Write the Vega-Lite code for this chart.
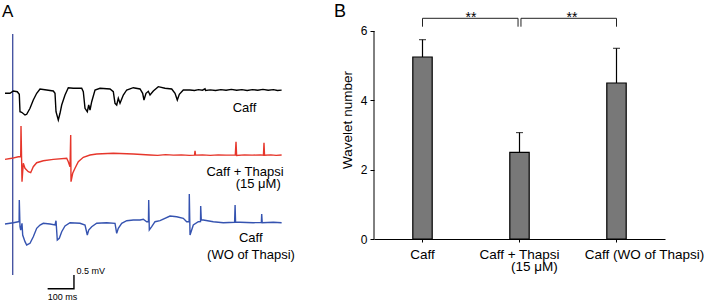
{
 "$schema": "https://vega.github.io/schema/vega-lite/v6.json",
 "padding": 0,
 "background": "white",
 "spacing": 24,
 "config": {
  "view": {"stroke": null},
  "font": "Liberation Sans",
  "axis": {"labelFont": "Liberation Sans", "titleFont": "Liberation Sans", "domainColor": "#000", "tickColor": "#000", "labelColor": "#000", "titleColor": "#000", "grid": false, "domainWidth": 1, "tickWidth": 1}
 },
 "datasets": {
  "caff": [
   {"t":0,"v":-0.084},{"t":19,"v":-0.084},{"t":31.5,"v":0},{"t":46.7,"v":-0.026},{"t":54.3,"v":-0.121},{"t":57,"v":-0.758},{"t":63.4,"v":-0.78},{"t":76,"v":-0.879},{"t":82.4,"v":-0.853},{"t":95,"v":-0.634},{"t":107.5,"v":-0.33},{"t":120.4,"v":-0.084},{"t":133,"v":0.073},{"t":158.4,"v":0.037},{"t":183.5,"v":0},{"t":190,"v":-0.084},{"t":193.8,"v":-0.758},{"t":202.5,"v":-1.062},{"t":209,"v":-0.817},{"t":215.4,"v":-0.513},{"t":228,"v":-0.147},{"t":240.5,"v":0.121},{"t":259.5,"v":0.099},{"t":291.4,"v":0.099},{"t":297.5,"v":-0.026},{"t":304,"v":-0.634},{"t":312.7,"v":-0.758},{"t":318,"v":-0.513},{"t":323,"v":-0.696},{"t":329.4,"v":-0.392},{"t":342,"v":0.037},{"t":361,"v":0.099},{"t":399,"v":0.073},{"t":411.5,"v":-0.026},{"t":418,"v":-0.451},{"t":424.4,"v":-0.513},{"t":430.5,"v":-0.267},{"t":437,"v":-0.451},{"t":449.5,"v":-0.147},{"t":462.4,"v":0.037},{"t":487.5,"v":0.121},{"t":513,"v":0.073},{"t":523,"v":-0.084},{"t":528,"v":-0.33},{"t":535.7,"v":-0.084},{"t":544.5,"v":-0.011},{"t":551,"v":-0.147},{"t":563.5,"v":0},{"t":582.4,"v":0.158},{"t":608,"v":0.099},{"t":633.4,"v":0.073},{"t":646,"v":-0.084},{"t":654.6,"v":-0.33},{"t":662.3,"v":-0.121},{"t":677.4,"v":0.037},{"t":703,"v":0.037},{"t":720,"v":0.02},{"t":735,"v":0.05},{"t":750,"v":0.03},{"t":760,"v":0.08},{"t":762,"v":0.02},{"t":780,"v":0.04},{"t":800,"v":0.02},{"t":820,"v":0.05},{"t":840,"v":0.03},{"t":860,"v":0.06},{"t":880,"v":0.03},{"t":900,"v":0.05},{"t":920,"v":0.02},{"t":940,"v":0.05},{"t":960,"v":0.03},{"t":980,"v":0.06},{"t":1000,"v":0.03},{"t":1020,"v":0.05},{"t":1035,"v":0.02},{"t":1051,"v":0.03}
  ],
  "thapsi": [
   {"t":0,"v":-0.103},{"t":25.5,"v":-0.066},{"t":50.5,"v":-0.007},{"t":59.7,"v":-0.007},{"t":60.8,"v":1.117},{"t":64.6,"v":-0.923},{"t":69.5,"v":-0.249},{"t":76,"v":-0.432},{"t":88.5,"v":-0.557},{"t":97.6,"v":-0.593},{"t":107.5,"v":-0.374},{"t":120.4,"v":-0.227},{"t":145.5,"v":-0.154},{"t":183.5,"v":-0.103},{"t":234.4,"v":-0.066},{"t":240.5,"v":-0.19},{"t":247,"v":-0.374},{"t":249.6,"v":0.788},{"t":250.8,"v":-0.923},{"t":257.2,"v":-0.615},{"t":266,"v":-0.432},{"t":278.5,"v":-0.19},{"t":297.5,"v":-0.029},{"t":323,"v":0.055},{"t":348.4,"v":0.092},{"t":411.5,"v":0.117},{"t":487.5,"v":0.092},{"t":551,"v":0.055},{"t":580,"v":0.04},{"t":610,"v":0.07},{"t":640,"v":0.05},{"t":670,"v":0.06},{"t":700,"v":0.04},{"t":720,"v":0.05},{"t":722,"v":0.21},{"t":724,"v":0.05},{"t":750,"v":0.06},{"t":780,"v":0.04},{"t":810,"v":0.06},{"t":840,"v":0.05},{"t":875,"v":0.05},{"t":877.7,"v":0.54},{"t":880,"v":0.04},{"t":910,"v":0.06},{"t":940,"v":0.05},{"t":970,"v":0.06},{"t":982,"v":0.05},{"t":984,"v":0.5},{"t":986,"v":0.05},{"t":1010,"v":0.06},{"t":1030,"v":0.04},{"t":1051,"v":0.055}
  ],
  "washout": [
   {"t":0,"v":-0.055},{"t":31.5,"v":-0.007},{"t":50.5,"v":0.029},{"t":53.6,"v":0.03},{"t":54.3,"v":0.824},{"t":57,"v":-0.154},{"t":59.7,"v":-0.275},{"t":64.6,"v":-0.029},{"t":67.2,"v":-0.458},{"t":76,"v":-0.703},{"t":82.4,"v":-0.824},{"t":95,"v":-0.762},{"t":107.5,"v":-0.52},{"t":120.4,"v":-0.212},{"t":133,"v":-0.092},{"t":145.5,"v":-0.029},{"t":171,"v":-0.055},{"t":190,"v":-0.092},{"t":193.8,"v":0.066},{"t":198.7,"v":-0.641},{"t":206.3,"v":-0.579},{"t":215.4,"v":-0.337},{"t":228,"v":-0.128},{"t":247,"v":-0.007},{"t":285,"v":-0.029},{"t":304,"v":-0.092},{"t":312.7,"v":-0.458},{"t":318,"v":-0.275},{"t":329.4,"v":-0.154},{"t":348.4,"v":-0.029},{"t":386.4,"v":-0.007},{"t":418,"v":-0.029},{"t":424.4,"v":-0.396},{"t":430.5,"v":-0.212},{"t":443.4,"v":-0.029},{"t":462.4,"v":0.066},{"t":487.5,"v":0.092},{"t":513,"v":0.092},{"t":525.5,"v":0.117},{"t":538.4,"v":0.029},{"t":545,"v":0.03},{"t":546,"v":0.824},{"t":548.3,"v":-0.275},{"t":557.4,"v":-0.154},{"t":570,"v":0.029},{"t":589,"v":0.066},{"t":627,"v":0.238},{"t":652.4,"v":0.212},{"t":677.4,"v":0.154},{"t":690.3,"v":0.029},{"t":699.5,"v":0.03},{"t":700.2,"v":1.044},{"t":703,"v":-0.458},{"t":715.4,"v":-0.092},{"t":734.4,"v":0.029},{"t":742.8,"v":0.03},{"t":743.5,"v":0.604},{"t":745.8,"v":0.092},{"t":753.4,"v":0.092},{"t":791.4,"v":0.029},{"t":829.4,"v":-0.007},{"t":872.3,"v":0.007},{"t":874.2,"v":0.641},{"t":876,"v":0.007},{"t":893,"v":0.007},{"t":943.4,"v":-0.007},{"t":974,"v":0},{"t":975.3,"v":0.311},{"t":977.2,"v":-0.007},{"t":1019.4,"v":0.007},{"t":1051,"v":-0.007}
  ],
  "bars": [
   {"condition":"Caff","mean":5.25,"upper":5.75},
   {"condition":"Caff + Thapsi","mean":2.5,"upper":3.07},
   {"condition":"Caff (WO of Thapsi)","mean":4.5,"upper":5.5}
  ]
 },
 "hconcat": [
  {
   "width": 310,
   "height": 300,
   "resolve": {"scale": {"y": "independent"}},
   "layer": [
    {
     "data": {"values": [{"t": 29.3, "v1": 0.916, "v2": 9.744}]},
     "mark": {"type": "rule", "color": "#3b4a9c", "strokeWidth": 1.3},
     "encoding": {
      "x": {"field": "t", "type": "quantitative", "scale": {"domain": [-19, 1158.8], "nice": false, "zero": false}, "axis": null},
      "y": {"field": "v1", "type": "quantitative", "scale": {"domain": [0, 10.989], "nice": false, "zero": false}, "axis": null},
      "y2": {"field": "v2"}
     }
    },
    {
     "data": {"name": "caff"},
     "mark": {"type": "line", "color": "#000000", "strokeWidth": 1.4},
     "encoding": {
      "x": {"field": "t", "type": "quantitative", "scale": {"domain": [-19, 1158.8], "nice": false, "zero": false}, "axis": null},
      "y": {"field": "v", "type": "quantitative", "scale": {"domain": [-7.656, 3.333], "nice": false, "zero": false}, "axis": null}
     }
    },
    {
     "data": {"name": "thapsi"},
     "mark": {"type": "line", "color": "#e6362b", "strokeWidth": 1.4},
     "encoding": {
      "x": {"field": "t", "type": "quantitative", "scale": {"domain": [-19, 1158.8], "nice": false, "zero": false}, "axis": null},
      "y": {"field": "v", "type": "quantitative", "scale": {"domain": [-5.256, 5.733], "nice": false, "zero": false}, "axis": null}
     }
    },
    {
     "data": {"name": "washout"},
     "mark": {"type": "line", "color": "#3553b0", "strokeWidth": 1.4},
     "encoding": {
      "x": {"field": "t", "type": "quantitative", "scale": {"domain": [-19, 1158.8], "nice": false, "zero": false}, "axis": null},
      "y": {"field": "v", "type": "quantitative", "scale": {"domain": [-2.839, 8.15], "nice": false, "zero": false}, "axis": null}
     }
    },
    {
     "data": {"values": [{"o": 1, "t": 162, "v": 0.414}, {"o": 2, "t": 262, "v": 0.414}, {"o": 3, "t": 262, "v": 0.914}]},
     "mark": {"type": "line", "color": "#000000", "strokeWidth": 1.4},
     "encoding": {
      "x": {"field": "t", "type": "quantitative", "scale": {"domain": [-19, 1158.8], "nice": false, "zero": false}, "axis": null},
      "y": {"field": "v", "type": "quantitative", "scale": {"domain": [0, 10.989], "nice": false, "zero": false}, "axis": null},
      "order": {"field": "o"}
     }
    },
    {
     "data": {"values": [{"t": 272, "v": 0.952, "label": "0.5 mV"}, {"t": 162, "v": 0.011, "label": "100 ms"}]},
     "mark": {"type": "text", "align": "left", "baseline": "alphabetic", "fontSize": 9, "color": "#000000"},
     "encoding": {
      "x": {"field": "t", "type": "quantitative", "scale": {"domain": [-19, 1158.8], "nice": false, "zero": false}, "axis": null},
      "y": {"field": "v", "type": "quantitative", "scale": {"domain": [0, 10.989], "nice": false, "zero": false}, "axis": null},
      "text": {"field": "label"}
     }
    },
    {
     "data": {"values": [
      {"t": 910, "v": 6.875, "label": "Caff"},
      {"t": 912, "v": 4.542, "label": "Caff + Thapsi"},
      {"t": 962, "v": 4.092, "label": "(15 μM)"},
      {"t": 933.5, "v": 2.114, "label": "Caff"},
      {"t": 934.6, "v": 1.491, "label": "(WO of Thapsi)"}
     ]},
     "mark": {"type": "text", "align": "center", "baseline": "alphabetic", "fontSize": 13, "color": "#000000"},
     "encoding": {
      "x": {"field": "t", "type": "quantitative", "scale": {"domain": [-19, 1158.8], "nice": false, "zero": false}, "axis": null},
      "y": {"field": "v", "type": "quantitative", "scale": {"domain": [0, 10.989], "nice": false, "zero": false}, "axis": null},
      "text": {"field": "label"}
     }
    },
    {
     "data": {"values": [{"t": -11.4, "v": 10.366, "label": "A"}]},
     "mark": {"type": "text", "align": "left", "baseline": "alphabetic", "fontSize": 17, "color": "#000000"},
     "encoding": {
      "x": {"field": "t", "type": "quantitative", "scale": {"domain": [-19, 1158.8], "nice": false, "zero": false}, "axis": null},
      "y": {"field": "v", "type": "quantitative", "scale": {"domain": [0, 10.989], "nice": false, "zero": false}, "axis": null},
      "text": {"field": "label"}
     }
    }
   ]
  },
  {
   "width": 291,
   "height": 239,
   "resolve": {"scale": {"x": "independent", "y": "independent"}},
   "layer": [
    {
     "data": {"name": "bars"},
     "layer": [
      {
       "mark": {"type": "bar", "fill": "#787878", "stroke": "#000000", "strokeWidth": 1.2},
       "encoding": {
        "x": {"field": "condition", "type": "nominal", "sort": null, "scale": {"paddingInner": 0.8, "paddingOuter": 0.4},
              "axis": {"title": null, "labelAngle": 0, "labelFontSize": 13.5, "labelPadding": 5, "tickSize": 3,
                       "labelOffset": {"condition": {"test": "datum.value === 'Caff (WO of Thapsi)'", "value": 28}, "value": 0}}},
        "y": {"field": "mean", "type": "quantitative", "scale": {"domain": [0, 6.894], "nice": false},
              "axis": {"title": "Wavelet number", "titleFontSize": 13.5, "titleFontWeight": "normal", "titlePadding": 6, "labelFontSize": 12, "labelPadding": 3, "domain": false,
                       "values": [0, 0.5, 1, 1.5, 2, 2.5, 3, 3.5, 4, 4.5, 5, 5.5, 6],
                       "labelExpr": "datum.value % 1 === 0 ? format(datum.value, 'd') : ''",
                       "tickSize": {"condition": {"test": "datum.value % 1 === 0", "value": 4}, "value": 3}}}
       }
      },
      {
       "mark": {"type": "rule", "color": "#000000", "strokeWidth": 1.2},
       "encoding": {
        "x": {"field": "condition", "type": "nominal", "sort": null},
        "y": {"field": "mean", "type": "quantitative"},
        "y2": {"field": "upper"}
       }
      },
      {
       "mark": {"type": "tick", "color": "#000000", "size": 7, "thickness": 1.2},
       "encoding": {
        "x": {"field": "condition", "type": "nominal", "sort": null},
        "y": {"field": "upper", "type": "quantitative"}
       }
      }
     ]
    },
    {
     "data": {"values": [{"bx": 0, "y1": 0, "y2": 6}]},
     "mark": {"type": "rule", "color": "#000000", "strokeWidth": 1},
     "encoding": {
      "x": {"field": "bx", "type": "quantitative", "scale": {"domain": [0, 3], "nice": false, "zero": false}, "axis": null},
      "y": {"field": "y1", "type": "quantitative", "scale": {"domain": [0, 6.894], "nice": false}, "axis": null},
      "y2": {"field": "y2"}
     }
    },
    {
     "data": {"values": [
      {"bracket": "L", "o": 1, "bx": 0.5, "by": 6.124}, {"bracket": "L", "o": 2, "bx": 0.5, "by": 6.366},
      {"bracket": "L", "o": 3, "bx": 1.485, "by": 6.366}, {"bracket": "L", "o": 4, "bx": 1.485, "by": 6.124},
      {"bracket": "R", "o": 1, "bx": 1.515, "by": 6.124}, {"bracket": "R", "o": 2, "bx": 1.515, "by": 6.366},
      {"bracket": "R", "o": 3, "bx": 2.5, "by": 6.366}, {"bracket": "R", "o": 4, "bx": 2.5, "by": 6.124}
     ]},
     "mark": {"type": "line", "color": "#222222", "strokeWidth": 1},
     "encoding": {
      "x": {"field": "bx", "type": "quantitative", "scale": {"domain": [0, 3], "nice": false, "zero": false}, "axis": null},
      "y": {"field": "by", "type": "quantitative", "scale": {"domain": [0, 6.894], "nice": false}, "axis": null},
      "detail": {"field": "bracket"},
      "order": {"field": "o"}
     }
    },
    {
     "data": {"values": [{"bx": 1.0, "by": 6.27, "label": "**"}, {"bx": 2.04, "by": 6.27, "label": "**"}]},
     "mark": {"type": "text", "align": "center", "baseline": "alphabetic", "fontSize": 14, "color": "#000000"},
     "encoding": {
      "x": {"field": "bx", "type": "quantitative", "scale": {"domain": [0, 3], "nice": false, "zero": false}, "axis": null},
      "y": {"field": "by", "type": "quantitative", "scale": {"domain": [0, 6.894], "nice": false}, "axis": null},
      "text": {"field": "label"}
     }
    },
    {
     "data": {"values": [{"bx": 1.653, "by": -0.923, "label": "(15 μM)"}]},
     "mark": {"type": "text", "align": "center", "baseline": "alphabetic", "fontSize": 13.5, "color": "#000000"},
     "encoding": {
      "x": {"field": "bx", "type": "quantitative", "scale": {"domain": [0, 3], "nice": false, "zero": false}, "axis": null},
      "y": {"field": "by", "type": "quantitative", "scale": {"domain": [0, 6.894], "nice": false}, "axis": null},
      "text": {"field": "label"}
     }
    },
    {
     "data": {"values": [{"bx": -0.412, "by": 6.41, "label": "B"}]},
     "mark": {"type": "text", "align": "left", "baseline": "alphabetic", "fontSize": 18, "color": "#000000"},
     "encoding": {
      "x": {"field": "bx", "type": "quantitative", "scale": {"domain": [0, 3], "nice": false, "zero": false}, "axis": null},
      "y": {"field": "by", "type": "quantitative", "scale": {"domain": [0, 6.894], "nice": false}, "axis": null},
      "text": {"field": "label"}
     }
    }
   ]
  }
 ]
}
